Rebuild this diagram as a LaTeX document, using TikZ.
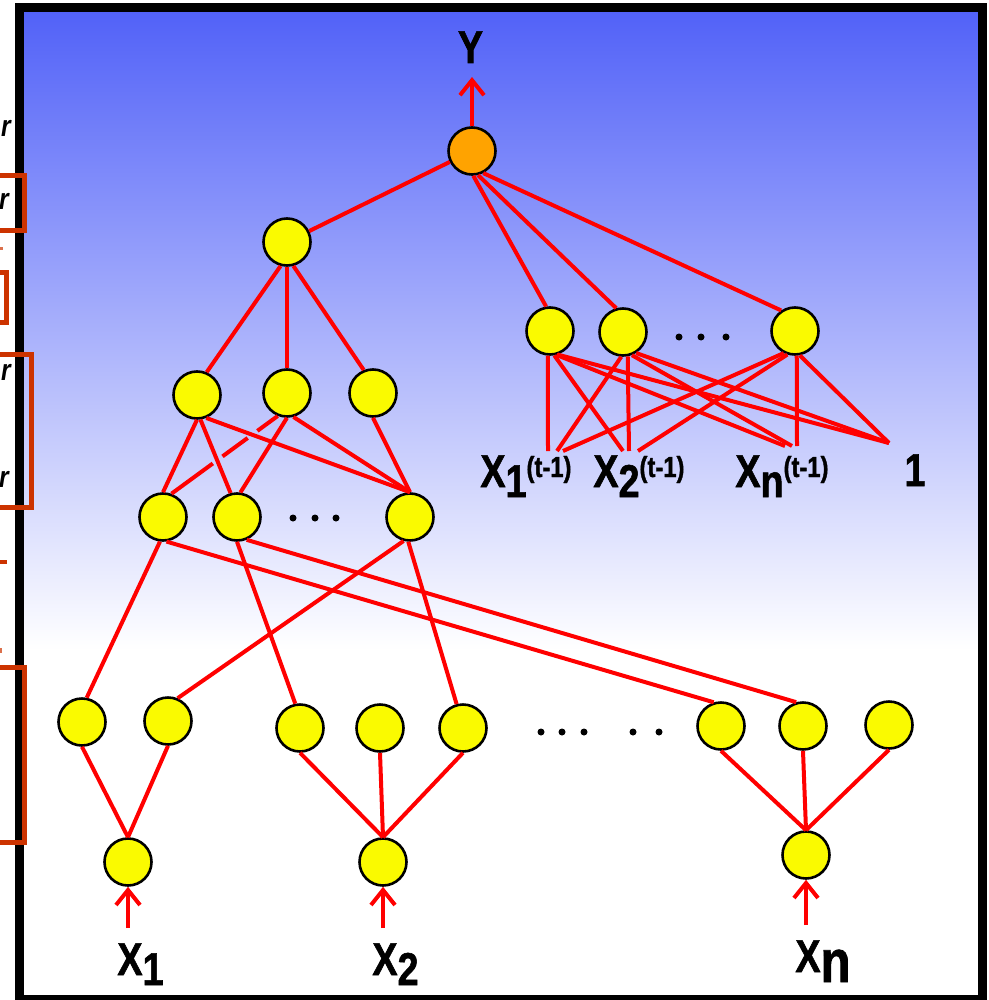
\documentclass[tikz,border=0pt]{standalone}
\usepackage{fontspec}
\setmainfont{Liberation Sans}[FakeStretch=0.82,BoldFeatures={FakeBold=1.2}]
\usetikzlibrary{arrows.meta}

\definecolor{skyblue}{RGB}{82,98,248}
\definecolor{unityellow}{RGB}{250,250,0}
\definecolor{outorange}{RGB}{255,163,0}
\definecolor{wirered}{RGB}{255,0,0}
\definecolor{bracketred}{RGB}{204,51,0}

\newcommand{\lagx}[1]{X\raisebox{-5pt}{#1}\raisebox{5pt}{\fontsize{14.5pt}{16pt}\selectfont(t-1)}}
\newcommand{\inx}[1]{X\raisebox{-5pt}{#1}}

\begin{document}
\begin{tikzpicture}[x=0.5pt,y=-0.5pt,
  unit/.style={circle,draw=black,line width=1.3pt,fill=unityellow,minimum size=23.5pt,inner sep=0pt},
  wire/.style={draw=wirered,line width=2pt},
  feed/.style={wire,-{Straight Barb[length=7.5pt,width=12pt]}},
  lbl/.style={font=\fontsize{23pt}{26pt}\selectfont\bfseries,inner sep=0pt},
  bracket/.style={draw=bracketred,line width=2.5pt}]
  \useasboundingbox (0,0) rectangle (989,1000);
  \fill[white] (0,0) rectangle (989,1000);

  % slide background and frame
  \shade[top color=skyblue,bottom color=white] (24,12) rectangle (978,650);
  \draw[line width=4.5pt] (19,7.5) rectangle (982,999);

  % cut-off brackets of the slide
  \begin{scope}
    \clip (0,0) rectangle (989,1000);
    \draw[bracket] (-40,175.5) rectangle (24.5,230.5);
    \draw[bracket] (-40,272.5) rectangle (6,322.5);
    \draw[bracket] (-40,354) rectangle (31,507.5);
    \draw[bracket] (-40,667.5) rectangle (24,842.5);
    \fill[bracketred!70] (-5,246.5) rectangle (3,250);
    \fill[bracketred] (-5,560) rectangle (7,564);
    \fill[bracketred!70] (-5,648) rectangle (1.5,653);
    \foreach \x/\y in {11/137, 9/210, 11/380, 9/487}
      \node[font=\fontsize{15pt}{17pt}\selectfont\bfseries\itshape,inner sep=0pt,anchor=base east] at (\x,\y) {r};
  \end{scope}

  % units
  \node[unit,fill=outorange] (top) at (472,151) {};
  \node[unit] (a) at (287,242) {};
  \node[unit] (m1) at (197,395) {};
  \node[unit] (m2) at (287,393) {};
  \node[unit] (m3) at (373,393) {};
  \node[unit] (l1) at (163,517) {};
  \node[unit] (l2) at (237,517) {};
  \node[unit] (l3) at (410,517) {};
  \node[unit] (r1) at (550,331) {};
  \node[unit] (r2) at (623,332) {};
  \node[unit] (r3) at (795,331) {};
  \node[unit] (u11) at (82,722) {};
  \node[unit] (u12) at (168,721) {};
  \node[unit] (u21) at (300,728) {};
  \node[unit] (u22) at (380,728) {};
  \node[unit] (u23) at (463,728) {};
  \node[unit] (un1) at (721,726) {};
  \node[unit] (un2) at (803,726) {};
  \node[unit] (un3) at (889,725) {};
  \node[unit] (in1) at (128,862) {};
  \node[unit] (in2) at (383,862) {};
  \node[unit] (inn) at (806,855) {};

  \foreach \x/\y in {293/518, 315/518, 336/518, 679/337, 701/337, 726/337,
                     541/732, 562/732, 584/732, 633/732, 659/732}
    \fill (\x,\y) circle (1.75pt);

  % labels
  \node[lbl,anchor=base] (ylab) at (470.5,63) {Y};
  \node[lbl,anchor=base west] (p1) at (480,487) {\lagx{1}};
  \node[lbl,anchor=base west] (p2) at (593,487) {\lagx{2}};
  \node[lbl,anchor=base west] (pn) at (735,487) {\lagx{n}};
  \node[lbl,anchor=base] (bias) at (915,486) {1};
  \node[lbl,anchor=base west] (x1) at (117,975) {\inx{1}};
  \node[lbl,anchor=base west] (x2) at (372,975) {\inx{2}};
  \node[lbl,anchor=base west] (xn) at (795,972) {X\raisebox{-5pt}{\fontsize{30pt}{32pt}\selectfont n}};

  \coordinate (yout) at (472,77);
  \coordinate (s1) at (128,928);
  \coordinate (s2) at (383,928);
  \coordinate (sn) at (806,925);
  \coordinate (t1) at (556,451);
  \coordinate (t2) at (629,451);
  \coordinate (tn) at (791,446);
  \coordinate (t0) at (889,443);

  % output unit
  \draw[feed] (top.north) -- (yout);
  \draw[wire] (top) -- (a);
  \draw[wire] (top.-87) -- (r1.99);
  \draw[wire] (top.-76) -- (r2.106);
  \draw[wire] (top.-63) -- (r3.124);

  % recurrent part
  \draw[wire] (r1.-95) -- ([xshift=-4pt]t1);
  \draw[wire] (r1.-80) -- ([xshift=-3pt]t2);
  \draw[wire] (r1.-75) -- ([xshift=-3pt]tn);
  \draw[wire] (r1.-72) -- (t0);
  \draw[wire] (r2.-94) -- ([xshift=0.5pt]t1);
  \draw[wire] (r2.-79) -- (t2);
  \draw[wire] (r2.-69) -- ([xshift=0.5pt]tn);
  \draw[wire] (r2.-58) -- (t0);
  \draw[wire] (r3.-117) -- ([xshift=3.5pt]t1);
  \draw[wire] (r3.-108) -- ([xshift=4.5pt]t2);
  \draw[wire] (r3.-86) -- ([xshift=3pt]tn);
  \draw[wire] (r3.-79) -- (t0);

  % left branch
  \draw[wire] (a.-105) -- (m1.67);
  \draw[wire] (a.south) -- (m2.north);
  \draw[wire] (a.-75) -- (m3.112);
  \draw[wire] (m1.south) -- (l1.north);
  \draw[wire] (m1.-82) -- (l2.105);
  \draw[wire] (m1.-68) -- (l3.north);
  \draw[wire,dash pattern=on 12.6pt off 6pt on 15.6pt off 6pt on 40pt] (m2.-112) -- (l1.70);
  \draw[wire] (m2.south) -- (l2.82);
  \draw[wire] (m2.-75) -- (l3.north);
  \draw[wire] (m3.south) -- (l3.north);

  \draw[wire] (l1.-97) -- (u11.79);
  \draw[wire] (l1.-82) -- (un1.107);
  \draw[wire] (l2.south) -- (u21.101);
  \draw[wire] (l2.-67) -- (un2.106);
  \draw[wire] (l3.-105) -- (u12.67);
  \draw[wire] (l3.-94) -- (u23.105);

  % input units
  \foreach \u in {u11,u12} \draw[wire] (\u.south) -- (in1.north);
  \foreach \u in {u21,u22,u23} \draw[wire] (\u.south) -- (in2.north);
  \foreach \u in {un1,un2,un3} \draw[wire] (\u.south) -- (inn.north);
  \draw[feed] (s1) -- (in1.south);
  \draw[feed] (s2) -- (in2.south);
  \draw[feed] (sn) -- (inn.south);
\end{tikzpicture}
\end{document}
